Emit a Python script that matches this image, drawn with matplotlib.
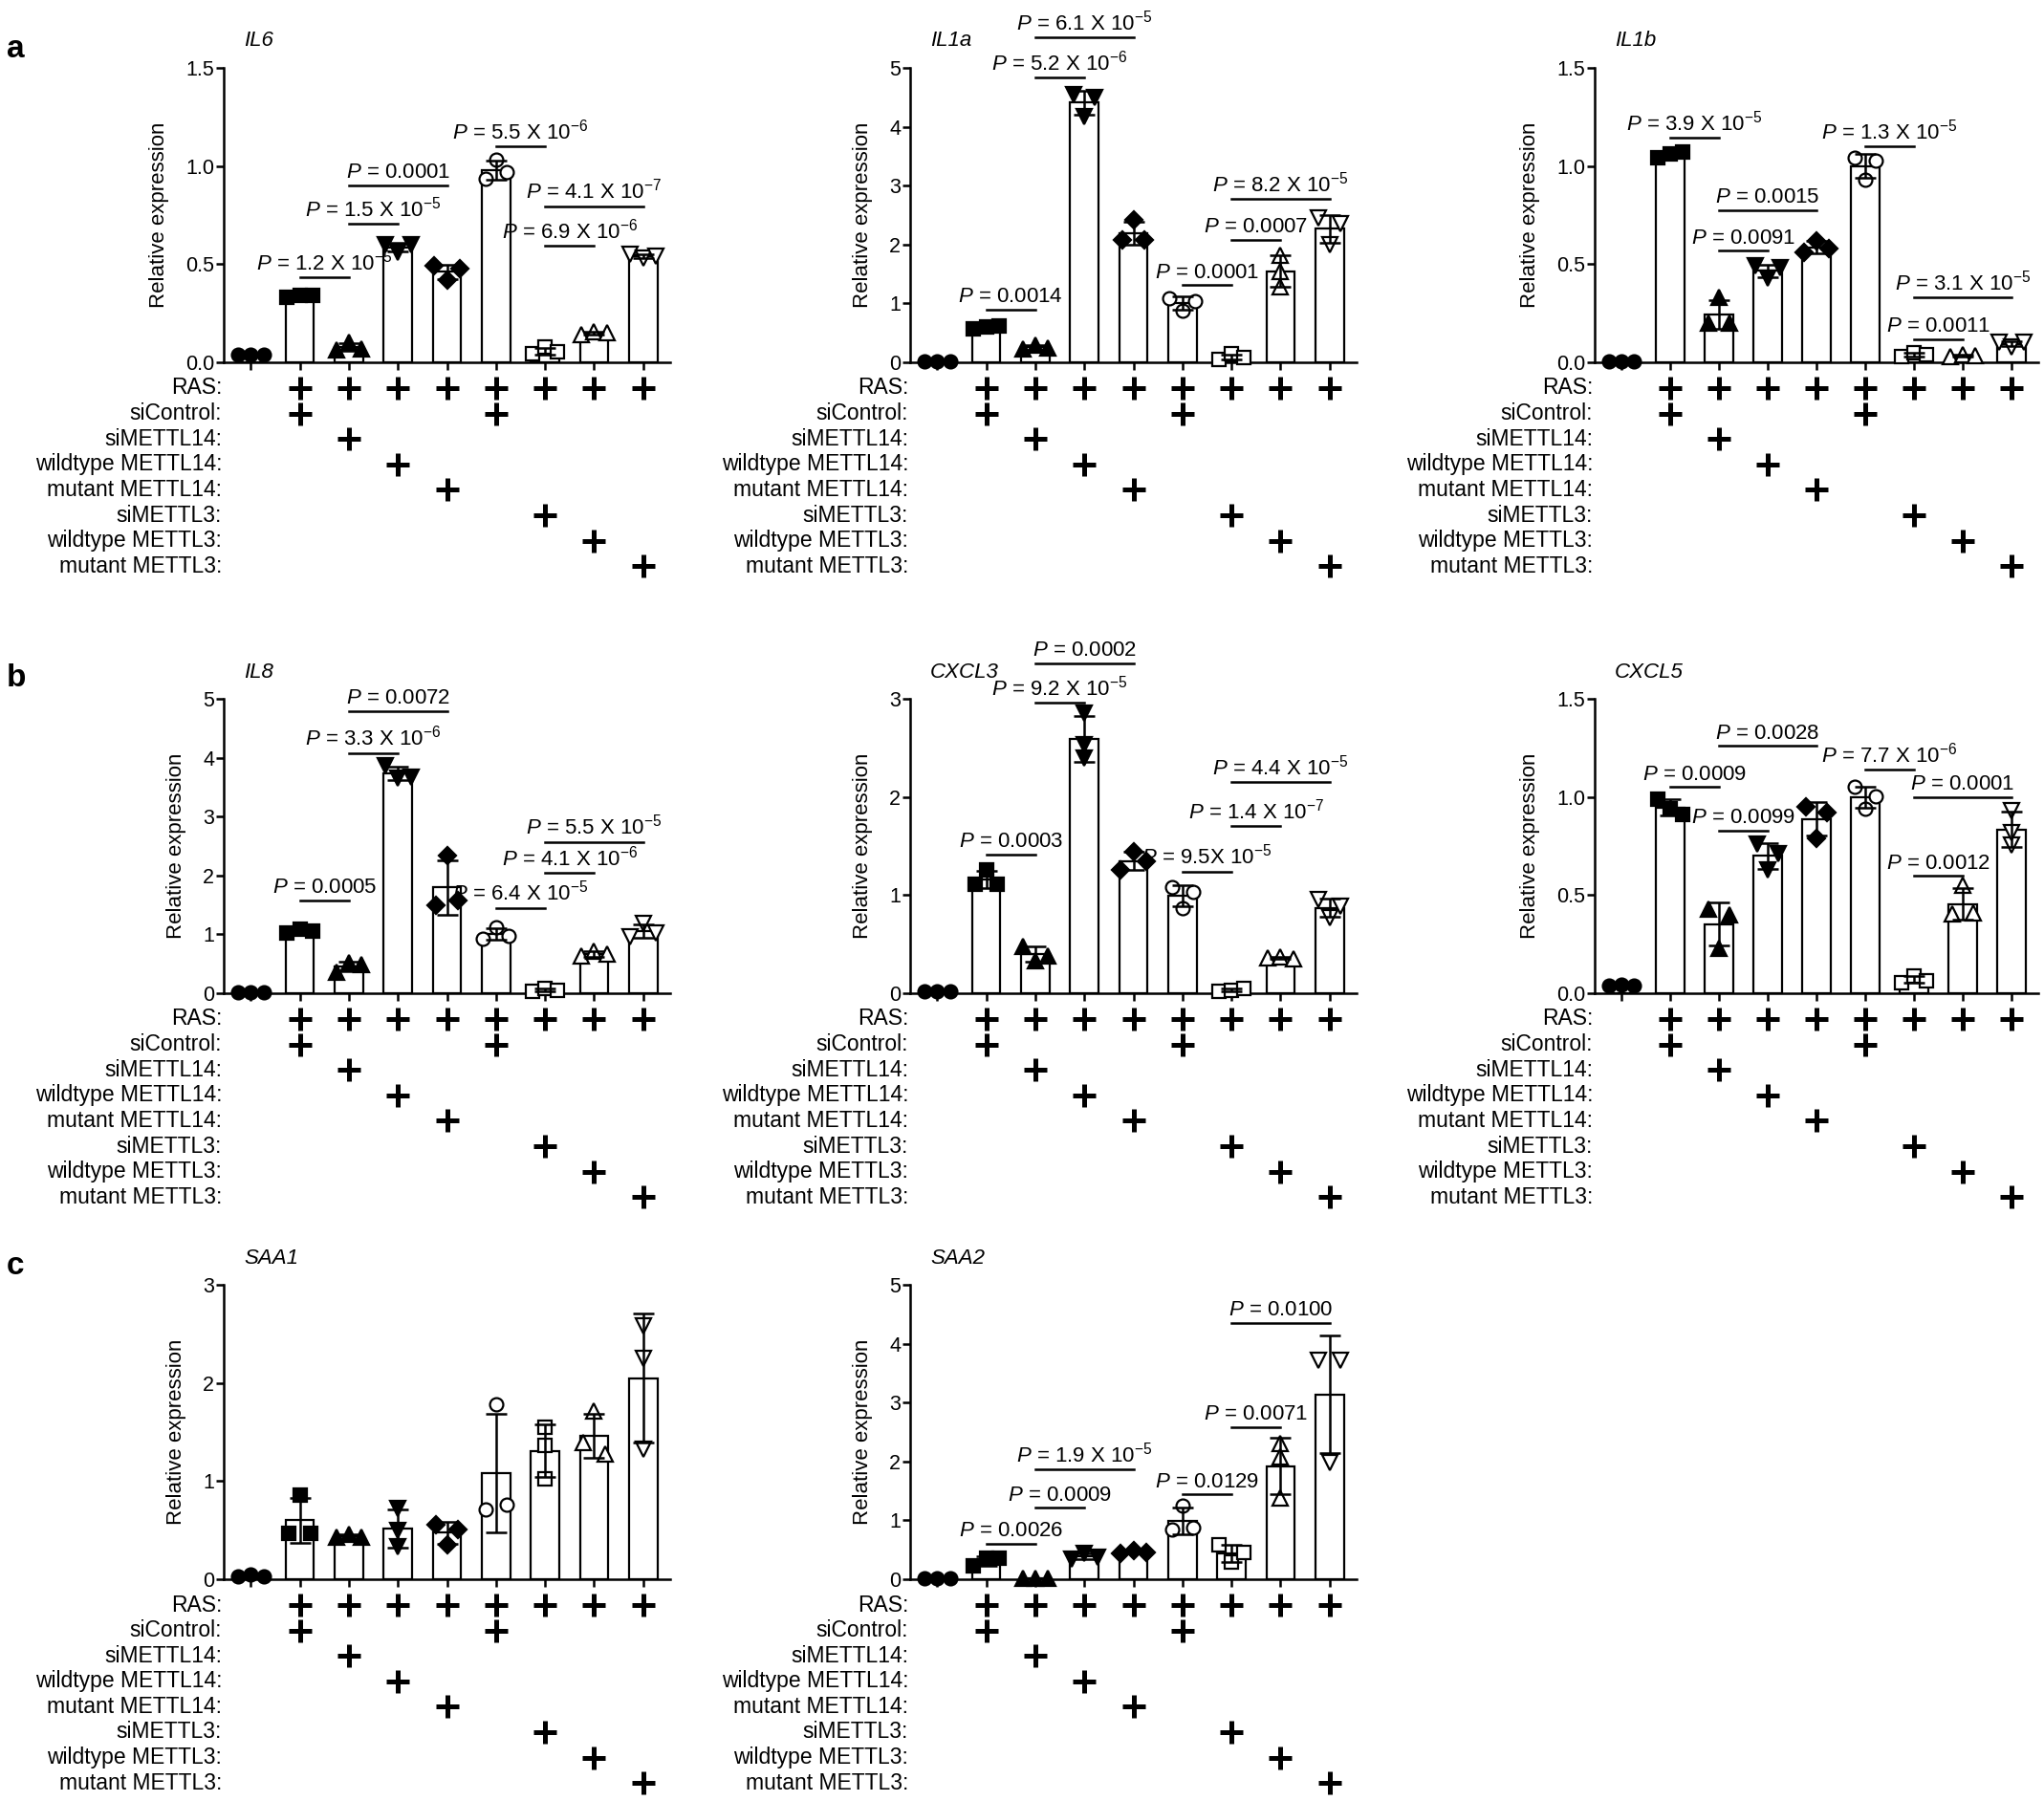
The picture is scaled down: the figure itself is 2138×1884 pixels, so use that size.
import numpy as np
import matplotlib
matplotlib.use("Agg")
import matplotlib.pyplot as plt
from matplotlib.transforms import blended_transform_factory

FONT = "Liberation Sans"
plt.rcParams["font.family"] = [FONT, "DejaVu Sans"]
plt.rcParams["mathtext.fontset"] = "custom"
plt.rcParams["mathtext.rm"] = FONT
plt.rcParams["mathtext.it"] = FONT + ":italic"
plt.rcParams["mathtext.bf"] = FONT + ":bold"

# ---- data ----
conditions = ["RAS:", "siControl:", "siMETTL14:", "wildtype METTL14:", "mutant METTL14:",
              "siMETTL3:", "wildtype METTL3:", "mutant METTL3:"]
condition_bars = [[1, 2, 3, 4, 5, 6, 7, 8], [1, 5], [2], [3], [4], [6], [7], [8]]

IL6 = [[0.04, 0.04, 0.04], [0.33, 0.34, 0.34], [0.065, 0.10, 0.07], [0.60, 0.56, 0.60],
       [0.49, 0.42, 0.475], [0.936, 1.033, 0.968], [0.044, 0.076, 0.052], [0.14, 0.155, 0.15],
       [0.55, 0.53, 0.54]]
IL6_pairs = [(1, 2), (2, 3), (2, 4), (5, 6), (6, 7), (6, 8)]
IL6_p = ["1.2 X 10$^{-5}$", "1.5 X 10$^{-5}$", "0.0001", "5.5 X 10$^{-6}$", "6.9 X 10$^{-6}$", "4.1 X 10$^{-7}$"]
IL6_py = [0.433, 0.704, 0.903, 1.101, 0.592, 0.795]

IL1a = [[0.01, 0.01, 0.01], [0.57, 0.60, 0.61], [0.22, 0.30, 0.25], [4.55, 4.18, 4.50],
        [2.07, 2.42, 2.08], [1.09, 0.88, 1.04], [0.05, 0.14, 0.08], [1.82, 1.55, 1.28],
        [2.45, 2.00, 2.35]]
IL1a_pairs = [(1, 2), (2, 3), (2, 4), (5, 6), (6, 7), (6, 8)]
IL1a_p = ["0.0014", "5.2 X 10$^{-6}$", "6.1 X 10$^{-5}$", "0.0001", "0.0007", "8.2 X 10$^{-5}$"]
IL1a_py = [0.90, 4.83, 5.52, 1.31, 2.08, 2.77]

IL1b = [[0.005, 0.005, 0.005], [1.04, 1.06, 1.07], [0.20, 0.33, 0.20], [0.49, 0.43, 0.48],
        [0.56, 0.62, 0.58], [1.04, 0.93, 1.03], [0.03, 0.05, 0.04], [0.03, 0.04, 0.035],
        [0.10, 0.08, 0.10]]
IL1b_pairs = [(1, 2), (2, 3), (2, 4), (5, 6), (6, 7), (6, 8)]
IL1b_p = ["3.9 X 10$^{-5}$", "0.0091", "0.0015", "1.3 X 10$^{-5}$", "0.0011", "3.1 X 10$^{-5}$"]
IL1b_py = [1.143, 0.568, 0.774, 1.10, 0.117, 0.332]

IL8 = [[0.01, 0.01, 0.01], [1.03, 1.08, 1.05], [0.36, 0.52, 0.48], [3.86, 3.66, 3.67],
       [1.49, 2.33, 1.58], [0.93, 1.12, 0.98], [0.04, 0.08, 0.05], [0.63, 0.72, 0.66],
       [0.96, 1.18, 1.03]]
IL8_pairs = [(1, 2), (2, 3), (2, 4), (5, 6), (6, 7), (6, 8)]
IL8_p = ["0.0005", "3.3 X 10$^{-6}$", "0.0072", "6.4 X 10$^{-5}$", "4.1 X 10$^{-6}$", "5.5 X 10$^{-5}$"]
IL8_py = [1.58, 4.08, 4.79, 1.45, 2.04, 2.57]

CXCL3 = [[0.02, 0.02, 0.02], [1.11, 1.26, 1.11], [0.48, 0.33, 0.38], [2.85, 2.53, 2.40],
         [1.26, 1.44, 1.34], [1.08, 0.87, 1.03], [0.02, 0.03, 0.05], [0.36, 0.37, 0.35],
         [0.95, 0.77, 0.89]]
CXCL3_pairs = [(1, 2), (2, 3), (2, 4), (5, 6), (6, 7), (6, 8)]
CXCL3_p = ["0.0003", "9.2 X 10$^{-5}$", "0.0002", "9.5X 10$^{-5}$", "1.4 X 10$^{-7}$", "4.4 X 10$^{-5}$"]
CXCL3_py = [1.41, 2.96, 3.36, 1.24, 1.70, 2.15]

CXCL5 = [[0.04, 0.045, 0.04], [0.99, 0.94, 0.91], [0.43, 0.227, 0.40], [0.76, 0.63, 0.71],
         [0.95, 0.79, 0.92], [1.05, 0.94, 1.005], [0.055, 0.09, 0.065], [0.405, 0.55, 0.41],
         [0.755, 0.93, 0.82]]
CXCL5_pairs = [(1, 2), (2, 3), (2, 4), (5, 6), (6, 7), (6, 8)]
CXCL5_p = ["0.0009", "0.0099", "0.0028", "7.7 X 10$^{-6}$", "0.0012", "0.0001"]
CXCL5_py = [1.05, 0.827, 1.26, 1.14, 0.597, 1.0]

SAA1 = [[0.03, 0.05, 0.03], [0.47, 0.86, 0.47], [0.43, 0.46, 0.43], [0.72, 0.50, 0.33],
        [0.56, 0.35, 0.51], [0.71, 1.78, 0.76], [1.55, 1.36, 1.02], [1.71, 1.39, 1.28],
        [2.58, 2.25, 1.32]]

SAA2 = [[0.01, 0.01, 0.01], [0.22, 0.35, 0.35], [0.01, 0.01, 0.01], [0.34, 0.44, 0.38],
        [0.44, 0.48, 0.45], [0.85, 1.25, 0.87], [0.58, 0.29, 0.46], [2.30, 2.08, 1.38],
        [3.72, 1.98, 3.72]]
SAA2_pairs = [(1, 2), (2, 3), (2, 4), (5, 6), (6, 7), (6, 8)]
SAA2_p = ["0.0026", "0.0009", "1.9 X 10$^{-5}$", "0.0129", "0.0071", "0.0100"]
SAA2_py = [0.60, 1.21, 1.87, 1.44, 2.58, 4.35]

# ---- style ----
markers = ["o", "s", "^", "v", "D", "o", "s", "^", "v"]
msizes = [10, 9.5, 12, 12, 9, 10, 9.5, 12, 12]
filled = [True, True, True, True, True, False, False, False, False]

W, H = 2138, 1884
COL_LEFT = [234, 952, 1668]
COL_W = [467, 467, 464]
ROW_TOP = [71, 731, 1344]
AX_H = 308

fig = plt.figure(figsize=(W / 100, H / 100), dpi=100)


def spread(v, px_per_unit, thr=12):
    # cheap beeswarm: points closer than thr pixels are put side by side
    order = np.argsort(v)
    groups, cur = [], [order[0]]
    for a, b in zip(order[:-1], order[1:]):
        if (v[b] - v[a]) * px_per_unit < thr:
            cur.append(b)
        else:
            groups.append(cur)
            cur = [b]
    groups.append(cur)
    table = {1: [0.0], 2: [-0.22, 0.22], 3: [-0.26, 0.0, 0.26]}
    offs = np.zeros(len(v))
    for g in groups:
        for j, idx in enumerate(sorted(g)):
            offs[idx] = table[len(g)][j]
    return offs


def panel(row, col, gene, values, ymax, ystep, pairs=(), plabels=(), py=()):
    left = COL_LEFT[col] / W
    bottom = 1 - (ROW_TOP[row] + AX_H) / H
    ax = fig.add_axes([left, bottom, COL_W[col] / W, AX_H / H])
    vals = [np.array(v, dtype=float) for v in values]
    x = np.arange(len(vals))
    means = np.array([v.mean() for v in vals])
    sds = np.array([v.std(ddof=1) for v in vals])

    ax.bar(x, means, width=0.58, color="white", edgecolor="black", linewidth=1.6, zorder=2)
    ppu = AX_H / ymax
    for i, v in enumerate(vals):
        ax.plot(i + spread(v, ppu), v, linestyle="none", marker=markers[i], ms=msizes[i],
                mfc="black" if filled[i] else "white", mec="black", mew=1.6,
                zorder=3, clip_on=False)
    ax.errorbar(x, means, yerr=sds, fmt="none", ecolor="black", elinewidth=1.8,
                capsize=8, capthick=1.8, zorder=4)

    for (a, b), lab, y in zip(pairs, plabels, py):
        ax.plot([a, b], [y, y], color="black", lw=1.8, clip_on=False, zorder=5)
        ax.annotate("$P$ = " + lab, xy=((a + b) / 2, y), xytext=(0, 2),
                    textcoords="offset points", ha="center", va="bottom",
                    fontsize=16, annotation_clip=False)

    ax.set_xlim(-0.55, 8.55)
    ax.set_ylim(0, ymax)
    ticks = np.arange(0, ymax + 1e-9, ystep)
    ax.set_yticks(ticks)
    if ystep < 1:
        ax.set_yticklabels(["%.1f" % t for t in ticks])
    else:
        ax.set_yticklabels(["%d" % t for t in ticks])
    ax.set_xticks(x)
    ax.set_xticklabels([])
    for s in ["top", "right"]:
        ax.spines[s].set_visible(False)
    for s in ["left", "bottom"]:
        ax.spines[s].set_linewidth(1.8)
    ax.tick_params(axis="y", length=6, width=1.8, pad=1, labelsize=15.5)
    ax.tick_params(axis="x", length=6, width=1.8)
    ax.set_ylabel("Relative expression", fontsize=16, labelpad=12)
    ax.text(0.045, 1 + 28 / AX_H, gene, transform=ax.transAxes, ha="left", va="center",
            fontsize=16, style="italic")

    # condition table under the axis
    tr = blended_transform_factory(ax.transData, ax.transAxes)
    for r, (lab, bars) in enumerate(zip(conditions, condition_bars)):
        yy = -(27 + 26.6 * r) / AX_H
        ax.text(-0.004, yy, lab, transform=ax.transAxes, ha="right", va="center", fontsize=16.5)
        ax.plot(bars, [yy] * len(bars), linestyle="none", marker="+", ms=17, mew=3.6,
                color="black", transform=tr, clip_on=False)
    return ax


panel(0, 0, "IL6", IL6, 1.5, 0.5, IL6_pairs, IL6_p, IL6_py)
panel(0, 1, "IL1a", IL1a, 5, 1, IL1a_pairs, IL1a_p, IL1a_py)
panel(0, 2, "IL1b", IL1b, 1.5, 0.5, IL1b_pairs, IL1b_p, IL1b_py)
panel(1, 0, "IL8", IL8, 5, 1, IL8_pairs, IL8_p, IL8_py)
panel(1, 1, "CXCL3", CXCL3, 3, 1, CXCL3_pairs, CXCL3_p, CXCL3_py)
panel(1, 2, "CXCL5", CXCL5, 1.5, 0.5, CXCL5_pairs, CXCL5_p, CXCL5_py)
panel(2, 0, "SAA1", SAA1, 3, 1)
panel(2, 1, "SAA2", SAA2, 5, 1, SAA2_pairs, SAA2_p, SAA2_py)

for letter, base in [("a", 60), ("b", 718), ("c", 1333)]:
    fig.text(7 / W, 1 - base / H, letter, fontsize=24, fontweight="bold", va="baseline", ha="left")

fig.savefig("out.png", dpi=100, facecolor="white")
